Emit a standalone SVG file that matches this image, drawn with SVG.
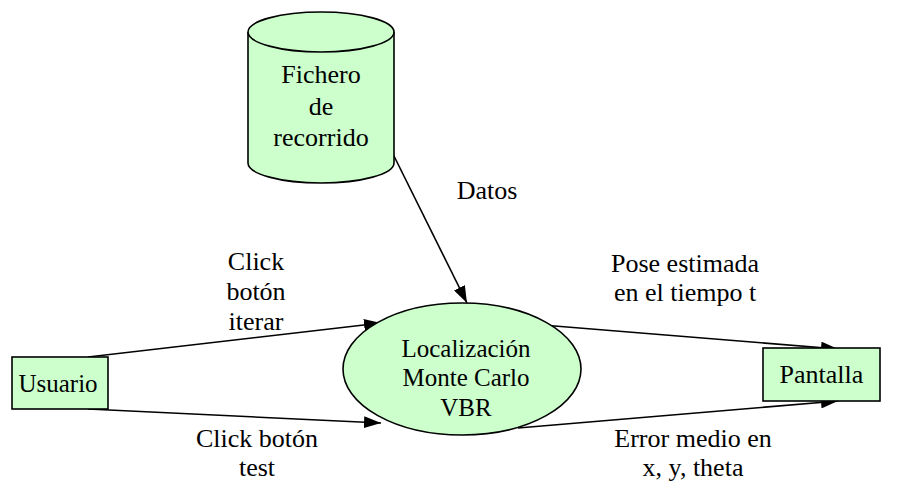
<svg xmlns="http://www.w3.org/2000/svg" width="906" height="488" viewBox="0 0 906 488">
<defs>
<style>
.shape{fill:#ccffcc;stroke:#000;stroke-width:1.6}
.t{font-family:'Liberation Serif','Times New Roman',serif;font-size:26px;fill:#000;text-anchor:middle}
.e{font-size:25px}
.c{stroke:#000;stroke-width:1.6;fill:none;marker-end:url(#ah)}
</style>
<marker id="ah" markerUnits="userSpaceOnUse" markerWidth="18" markerHeight="12" refX="17" refY="6" orient="auto">
<path d="M0,0 L17,6 L0,12 Z" fill="#000"/>
</marker>
</defs>
<rect width="906" height="488" fill="#fff"/>
<g id="connectors">
<line class="c" x1="392" y1="152" x2="467" y2="303"/>
<line class="c" x1="88" y1="357" x2="381" y2="323"/>
<line class="c" x1="88" y1="409" x2="381" y2="423"/>
<line class="c" x1="530" y1="324" x2="838" y2="349"/>
<line class="c" x1="518" y1="428" x2="838" y2="401"/>
</g>
<g id="fichero">
<path class="shape" d="M248,32 L248,163 A73,20 0 0 0 394,163 L394,32 A73,20 0 0 0 248,32 Z"/>
<path class="shape" d="M248,32 A73,20 0 0 0 394,32" fill="none"/>
<text class="t" x="321" y="83">Fichero</text>
<text class="t" x="321" y="115">de</text>
<text class="t" x="321" y="146">recorrido</text>
</g>
<g id="localizacion">
<ellipse class="shape" cx="462" cy="369" rx="119" ry="66"/>
<text class="t e" x="466" y="357">Localización</text>
<text class="t e" x="466" y="386">Monte Carlo</text>
<text class="t e" x="466" y="416">VBR</text>
</g>
<g id="usuario">
<rect class="shape" x="12" y="357" width="96" height="52"/>
<text class="t e" x="58" y="392">Usuario</text>
</g>
<g id="pantalla">
<rect class="shape" x="763" y="348" width="117" height="53"/>
<text class="t" x="821.5" y="383">Pantalla</text>
</g>
<g id="labels">
<text class="t" x="487" y="199">Datos</text>
<text class="t" x="256" y="270">Click</text>
<text class="t" x="256" y="300">botón</text>
<text class="t" x="256" y="330">iterar</text>
<text class="t" x="685" y="272">Pose estimada</text>
<text class="t" x="685" y="301">en el tiempo t</text>
<text class="t" x="257" y="447">Click botón</text>
<text class="t" x="257" y="476">test</text>
<text class="t" x="693" y="447">Error medio en</text>
<text class="t" x="693" y="476">x, y, theta</text>
</g>
</svg>
